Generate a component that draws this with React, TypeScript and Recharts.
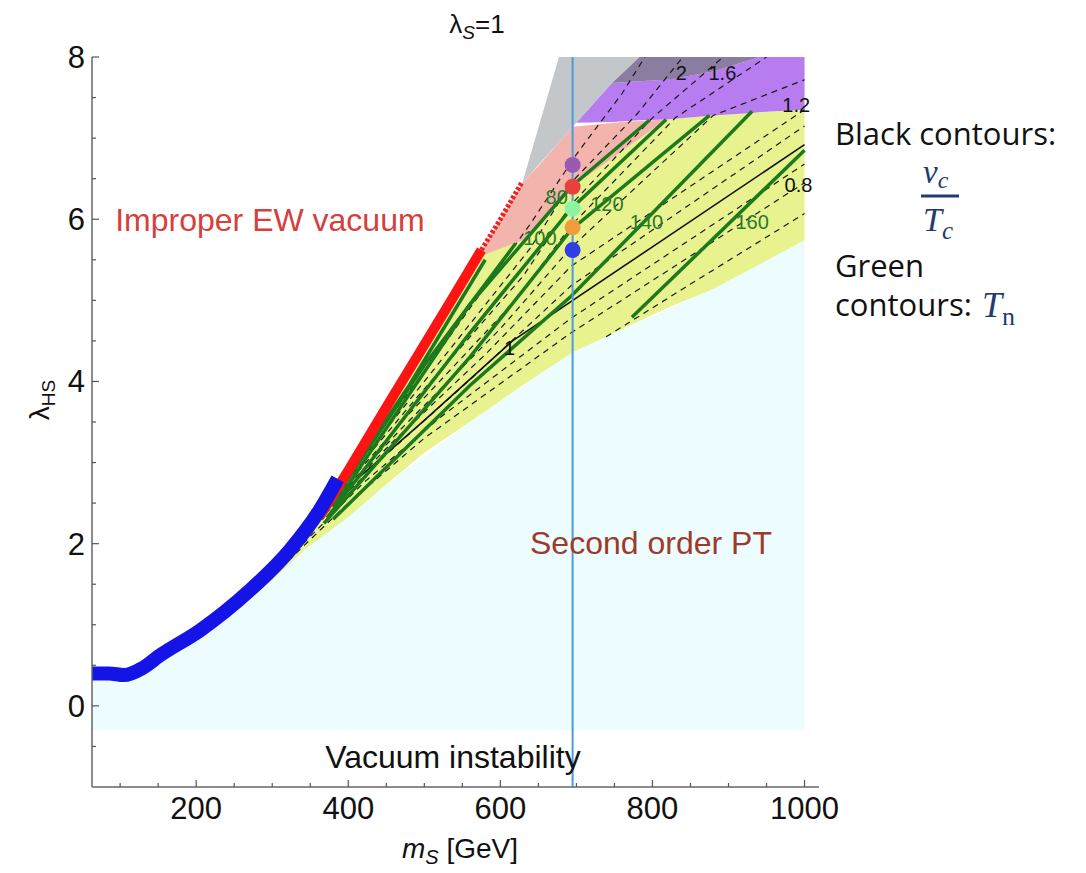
import { ComposedChart, Area, Line, Scatter, XAxis, YAxis } from "recharts";

const W = 1070;
const H = 860;

// axes
const xTicks = [100, 150, 200, 250, 300, 350, 400, 450, 500, 550, 600, 650, 700, 750, 800, 850, 900, 950, 1000];
const yTicks = [-0.5, 0, 0.5, 1, 1.5, 2, 2.5, 3, 3.5, 4, 4.5, 5, 5.5, 6, 6.5, 7, 7.5, 8];

// regions (m_S in GeV, lambda_HS)
const cyanM = [63, 103, 156, 222, 284, 353, 441, 572, 695, 739, 878, 1000];
const cyanTop = [0.36, 0.28, 0.6, 1.01, 1.42, 2.0, 2.66, 3.58, 4.36, 4.55, 5.13, 5.74];
const cyanFloor = -0.3;

const yellowM = [260, 300, 345, 362, 400, 441, 500, 575, 629, 695, 739, 818, 878, 1000];
const yellowLo = [1.25, 1.55, 1.94, 2.06, 2.33, 2.66, 3.12, 3.6, 3.95, 4.36, 4.55, 4.9, 5.13, 5.74];
const yellowHi = [1.3, 1.72, 2.2, 2.33, 2.9, 3.54, 4.45, 5.6, 5.78, 6.4, 6.72, 7.23, 7.28, 7.35];

const pinkM = [575, 629, 651, 695, 760, 818];
const pinkLo = [5.55, 5.74, 5.96, 6.4, 6.84, 7.23];
const pinkHi = [5.62, 6.45, 6.67, 7.14, 7.2, 7.23];

const grayM = [629, 677, 700, 747, 783];
const grayLo = [6.45, 6.95, 7.19, 7.68, 8.0];
const grayHi = [6.45, 8.0, 8.0, 8.0, 8.0];

const darkM = [747, 783, 820, 880, 931, 940];
const darkLo = [7.68, 7.7, 7.72, 7.82, 7.97, 8.0];
const darkHi = [7.68, 8.0, 8.0, 8.0, 8.0, 8.0];

const purpleM = [700, 747, 783, 818, 880, 931, 940, 1000];
const purpleLo = [7.19, 7.2, 7.22, 7.23, 7.28, 7.31, 7.32, 7.35];
const purpleHi = [7.19, 7.68, 7.7, 7.72, 7.82, 7.97, 8.0, 8.0];

// bands
const blueM = [63, 85, 105, 130, 152, 205, 270, 323, 362, 386];
const blueV = [0.4, 0.4, 0.38, 0.47, 0.62, 0.93, 1.42, 1.92, 2.41, 2.8];
const redM = [362, 400, 450, 500, 540, 575];
const redV = [2.33, 2.9, 3.68, 4.45, 5.07, 5.62];
const redDotM = [575, 600, 628];
const redDotV = [5.62, 6.0, 6.45];

// vc/Tc contours
const solidOneM = [384, 500, 616, 800, 1000];
const solidOneV = [2.57, 3.52, 4.5, 5.66, 6.92];
const dashed: [number[], number[]][] = [
  [[739, 850, 1000], [4.55, 5.2, 6.07]],
  [[300, 400, 500, 693, 1000], [1.6, 2.5, 3.3, 4.6, 6.45]],
  [[330, 420, 520, 693, 1000], [1.9, 2.75, 3.55, 4.78, 6.68]],
  [[360, 450, 560, 693, 1000], [2.28, 3.1, 4.02, 5.18, 7.15]],
  [[366, 460, 580, 693, 1000], [2.36, 3.27, 4.33, 5.42, 7.35]],
  [[370, 470, 600, 693, 880, 1000], [2.42, 3.42, 4.65, 5.65, 7.28, 7.72]],
  [[374, 480, 620, 693, 830, 950], [2.48, 3.6, 5.0, 5.92, 7.25, 8.0]],
  [[378, 490, 630, 693, 800, 893], [2.55, 3.8, 5.3, 6.18, 7.25, 8.0]],
  [[382, 500, 640, 693, 780, 840], [2.62, 4.0, 5.65, 6.45, 7.3, 8.0]],
  [[386, 510, 640, 700, 760, 790], [2.7, 4.25, 5.95, 6.8, 7.55, 8.0]],
];

// Tn contours
const green: [number[], number[]][] = [
  [[360, 480, 580], [2.28, 3.95, 5.5]],
  [[364, 500, 620], [2.3, 4.2, 5.7]],
  [[380, 560, 693, 796], [2.45, 4.95, 6.4, 7.22]],
  [[372, 560, 693, 818], [2.32, 4.6, 6.13, 7.23]],
  [[368, 560, 693, 875], [2.25, 4.3, 5.87, 7.28]],
  [[380, 560, 693, 931], [2.3, 3.95, 5.05, 7.33]],
  [[773, 1000], [4.79, 6.85]],
];

const benchM = 695;
const benchV = [6.67, 6.4, 6.13, 5.9, 5.62];
const benchColors = ["#9b59b6", "#e8413c", "#8df5a2", "#f39c3d", "#2f3de6"];

const contourLabels = [
  { m: 838, v: 7.8, t: "2", c: "#111" },
  { m: 892, v: 7.8, t: "1.6", c: "#111" },
  { m: 989, v: 7.41, t: "1.2", c: "#111" },
  { m: 992, v: 6.42, t: "0.8", c: "#111" },
  { m: 612, v: 4.41, t: "1", c: "#111" },
  { m: 674, v: 6.27, t: "80", c: "#2a7a2a" },
  { m: 652, v: 5.77, t: "100", c: "#2a7a2a" },
  { m: 740, v: 6.19, t: "120", c: "#2a7a2a" },
  { m: 792, v: 5.97, t: "140", c: "#2a7a2a" },
  { m: 931, v: 5.97, t: "160", c: "#2a7a2a" },
];

const regionLabels = [
  { m: 93.5, v: 5.85, t: "Improper EW vacuum", c: "#d6403c" },
  { m: 639, v: 1.87, t: "Second order PT", c: "#9c3b2b" },
  { m: 369.6, v: -0.76, t: "Vacuum instability", c: "#111" },
];

const toRange = (ms: number[], lo: number[], hi: number[]) => ms.map((m, i) => ({ m, r: [lo[i], hi[i]] }));
const toLine = (ms: number[], vs: number[]) => ms.map((m, i) => ({ m, v: vs[i] }));

const sans = "'Liberation Sans', Arial, sans-serif";
const frame = { stroke: "#666", strokeWidth: 1.5 };

const BottomTick = (p: any) => {
  const major = p.payload.value % 200 === 0;
  return (
    <g>
      <line x1={p.x} x2={p.x} y1={p.y} y2={p.y - (major ? 7 : 4)} stroke="#555" strokeWidth={1.2} />
      {major && (
        <text x={p.x} y={p.y + 32} textAnchor="middle" fontSize={31} fontFamily={sans} fill="#111">
          {p.payload.value}
        </text>
      )}
    </g>
  );
};
const TopTick = (p: any) => {
  const major = p.payload.value % 200 === 0;
  return <line x1={p.x} x2={p.x} y1={p.y} y2={p.y + (major ? 7 : 4)} stroke="#555" strokeWidth={1.2} />;
};
const LeftTick = (p: any) => {
  const major = p.payload.value % 2 === 0;
  return (
    <g>
      <line x1={p.x} x2={p.x + (major ? 7 : 4)} y1={p.y} y2={p.y} stroke="#555" strokeWidth={1.2} />
      {major && (
        <text x={p.x - 7} y={p.y + 11} textAnchor="end" fontSize={31} fontFamily={sans} fill="#111">
          {p.payload.value}
        </text>
      )}
    </g>
  );
};
const RightTick = (p: any) => {
  const major = p.payload.value % 2 === 0;
  return <line x1={p.x} x2={p.x - (major ? 7 : 4)} y1={p.y} y2={p.y} stroke="#555" strokeWidth={1.2} />;
};

const region = (data: any[], fill: string, key: string) => (
  <Area key={key} data={data} dataKey="r" type="linear" fill={fill} fillOpacity={1} stroke="none" dot={false} activeDot={false} isAnimationActive={false} />
);

export default function App() {
  return (
    <div style={{ position: "relative", width: W, height: H }}>
      <ComposedChart width={W} height={H} margin={{ top: 49, right: 259, bottom: 11, left: 0 }}>
        <XAxis dataKey="m" type="number" domain={[63, 1019]} ticks={xTicks} interval={0} allowDataOverflow
          tick={BottomTick} tickSize={0} tickMargin={0} tickLine={false} axisLine={frame} height={70} />
        <XAxis xAxisId="top" orientation="top" dataKey="m" type="number" domain={[63, 1019]} ticks={xTicks} interval={0}
          allowDataOverflow tick={TopTick} tickSize={0} tickMargin={0} tickLine={false} axisLine={frame} height={0} />
        <YAxis dataKey="v" type="number" domain={[-1, 8]} ticks={yTicks} interval={0} allowDataOverflow
          tick={LeftTick} tickSize={0} tickMargin={0} tickLine={false} axisLine={frame} width={84} />
        <YAxis yAxisId="right" orientation="right" type="number" domain={[-1, 8]} ticks={yTicks} interval={0}
          allowDataOverflow tick={RightTick} tickSize={0} tickMargin={0} tickLine={false} axisLine={frame} width={0} />

        {region(toRange(cyanM, cyanM.map(() => cyanFloor), cyanTop), "#edfcfe", "cyan")}
        {region(toRange(yellowM, yellowLo, yellowHi), "#e8f38f", "yellow")}
        {region(toRange(pinkM, pinkLo, pinkHi), "#f4b4ae", "pink")}
        {region(toRange(grayM, grayLo, grayHi), "#c4c7ca", "gray")}
        {region(toRange(purpleM, purpleLo, purpleHi), "#b67cf0", "purple")}
        {region(toRange(darkM, darkLo, darkHi), "#8a7da0", "dark")}

        <Scatter data={regionLabels} isAnimationActive={false}
          shape={(p: any) => (
            <text x={p.cx} y={p.cy} fontSize={32} fontFamily={sans} fill={p.payload.c}>{p.payload.t}</text>
          )} />

        {dashed.map(([ms, vs], i) => (
          <Line key={"d" + i} data={toLine(ms, vs)} dataKey="v" type="linear" stroke="#1a1a1a" strokeWidth={1.2}
            strokeDasharray="6 5" dot={false} activeDot={false} isAnimationActive={false} />
        ))}
        <Line data={toLine(solidOneM, solidOneV)} dataKey="v" type="linear" stroke="#111" strokeWidth={1.6}
          dot={false} activeDot={false} isAnimationActive={false} />
        {green.map(([ms, vs], i) => (
          <Line key={"g" + i} data={toLine(ms, vs)} dataKey="v" type="linear" stroke="#1c7a1c" strokeWidth={3.5}
            dot={false} activeDot={false} isAnimationActive={false} />
        ))}

        <Line data={toLine(redM, redV)} dataKey="v" type="linear" stroke="#ff1414" strokeWidth={10}
          dot={false} activeDot={false} isAnimationActive={false} />
        <Line data={toLine(redDotM, redDotV)} dataKey="v" type="linear" stroke="#ee2020" strokeWidth={5}
          strokeDasharray="3 2" dot={false} activeDot={false} isAnimationActive={false} />
        <Line data={toLine(blueM, blueV)} dataKey="v" type="monotone" stroke="#1414e6" strokeWidth={14}
          strokeLinejoin="round" dot={false} activeDot={false} isAnimationActive={false} />

        <Line data={toLine([benchM, benchM], [-1, 8])} dataKey="v" type="linear" stroke="#4a9be0" strokeWidth={2}
          dot={false} activeDot={false} isAnimationActive={false} />
        <Scatter data={benchV.map((v, i) => ({ m: benchM, v, c: benchColors[i] }))} isAnimationActive={false}
          shape={(p: any) => <circle cx={p.cx} cy={p.cy} r={8} fill={p.payload.c} />} />
        <Scatter data={contourLabels} isAnimationActive={false}
          shape={(p: any) => (
            <text x={p.cx} y={p.cy} dy={7} textAnchor="middle" fontSize={20} fontFamily={sans} fill={p.payload.c}>
              {p.payload.t}
            </text>
          )} />
      </ComposedChart>

      <svg width={W} height={H} style={{ position: "absolute", left: 0, top: 0, pointerEvents: "none", overflow: "visible" }}>
        <text x={469} y={25} textAnchor="middle" fontSize={26} fontFamily={sans} fill="#111">
          λ<tspan fontSize={19} dy={6} fontStyle="italic">S</tspan><tspan dy={-6}>=1</tspan>
        </text>
        <text x={452} y={850} textAnchor="middle" fontSize={28} fontFamily={sans} fill="#111">
          <tspan fontStyle="italic">m</tspan><tspan fontSize={20} dy={6} fontStyle="italic">S</tspan>
          <tspan dy={-6}> [GeV]</tspan>
        </text>
        <text transform="translate(41,392) rotate(-90)" textAnchor="middle" fontSize={28} fontFamily={sans} fill="#111">
          λ<tspan fontSize={19} dy={6}>HS</tspan>
        </text>

        <text x={827} y={137} fontSize={31} fontFamily="'Open Sans', sans-serif" fill="#111">Black contours:</text>
        <text x={915} y={175} fontSize={33} fontStyle="italic" fontFamily="'Liberation Serif', serif" fill="#1f3b70">
          v<tspan fontSize={24} dy={5}>c</tspan>
        </text>
        <line x1={913} x2={951} y1={188} y2={188} stroke="#1f3b70" strokeWidth={3} />
        <text x={915} y={223} fontSize={34} fontStyle="italic" fontFamily="'Liberation Serif', serif" fill="#1f3b70">
          T<tspan fontSize={25} dy={8}>c</tspan>
        </text>
        <text x={827} y={269} fontSize={31} fontFamily="'Open Sans', sans-serif" fill="#111">Green</text>
        <text x={827} y={308} fontSize={31} fontFamily="'Open Sans', sans-serif" fill="#111">contours:</text>
        <text x={974} y={309} fontSize={36} fontStyle="italic" fontFamily="'Liberation Serif', serif" fill="#1f3b70">
          T<tspan fontSize={26} dy={8} fontStyle="normal">n</tspan>
        </text>
      </svg>
    </div>
  );
}
